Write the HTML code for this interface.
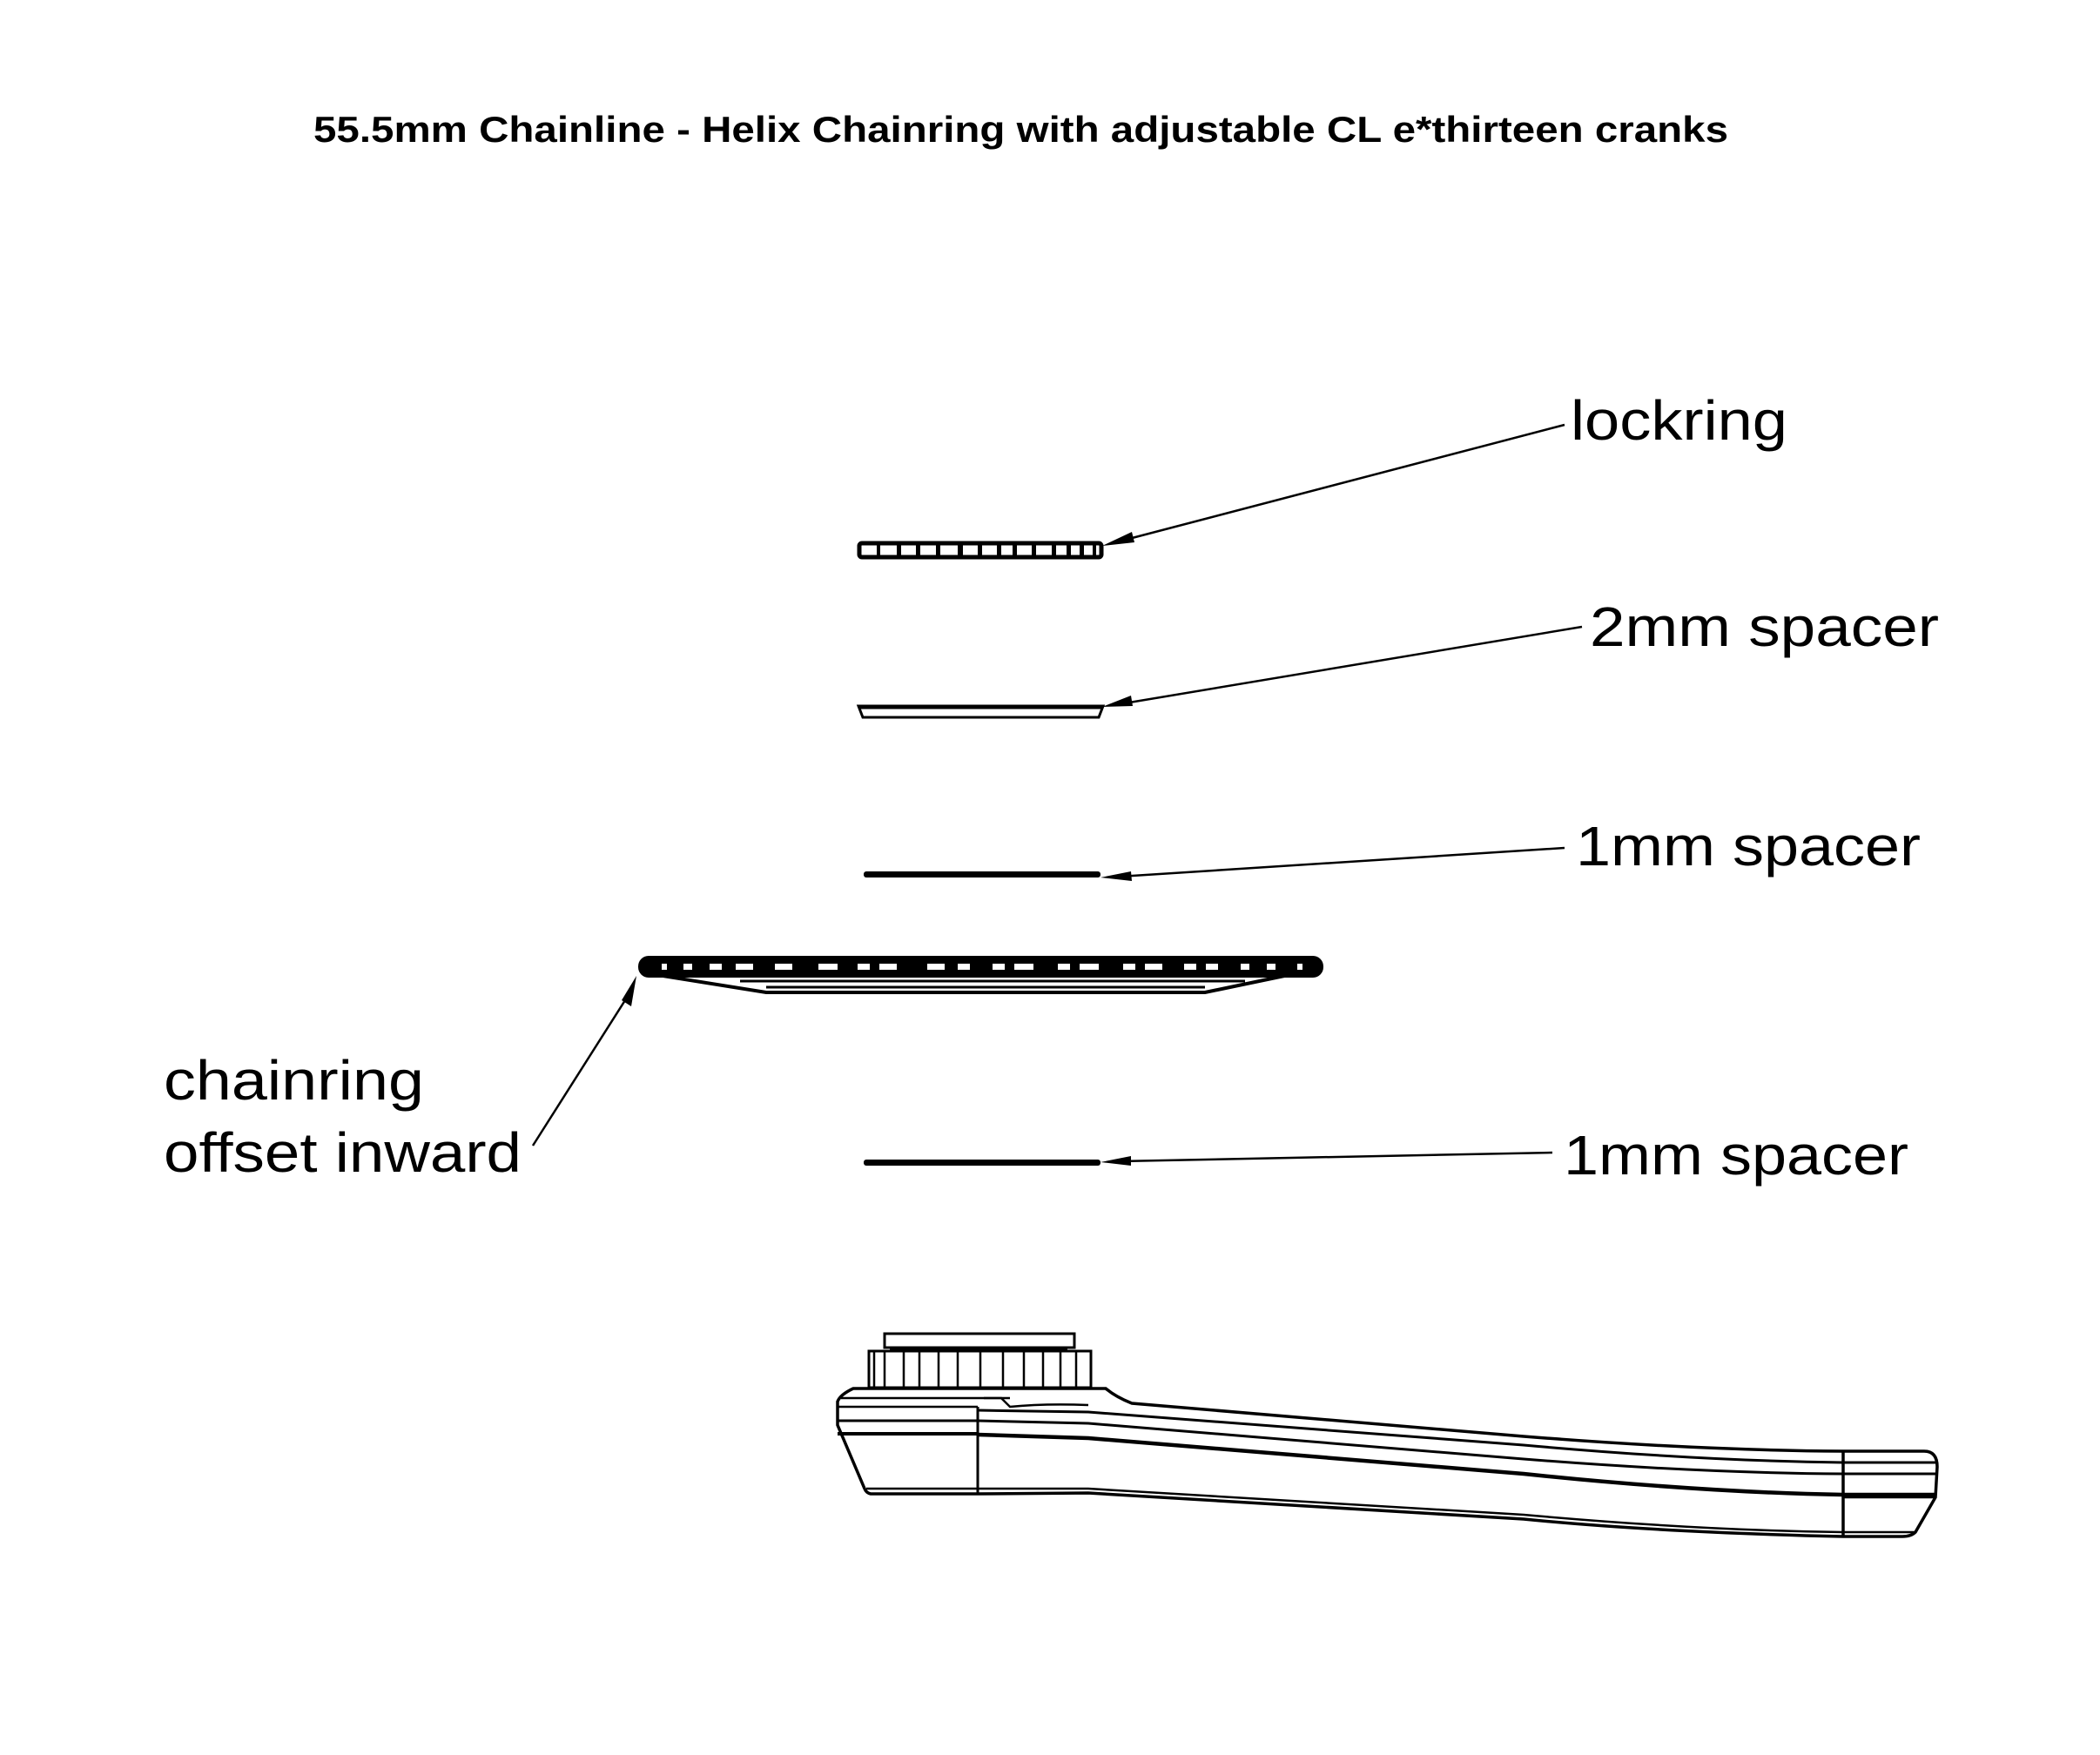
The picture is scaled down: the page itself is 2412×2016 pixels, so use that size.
<!DOCTYPE html>
<html><head><meta charset="utf-8"><style>
html,body{margin:0;padding:0;background:#fff;}
svg{display:block;}
text{font-family:"Liberation Sans",sans-serif;fill:#000;}
</style></head><body>
<svg width="2412" height="2016" viewBox="0 0 2412 2016" xmlns="http://www.w3.org/2000/svg">
<rect width="2412" height="2016" fill="#fff"/>
<text x="360" y="163" font-size="42" font-weight="bold" textLength="1625" lengthAdjust="spacingAndGlyphs">55.5mm Chainline - Helix Chainring with adjustable CL e*thirteen cranks</text>

<!-- labels -->
<g font-size="64">
<text x="1804" y="505" textLength="249" lengthAdjust="spacingAndGlyphs">lockring</text>
<text x="1826" y="742" textLength="401" lengthAdjust="spacingAndGlyphs">2mm spacer</text>
<text x="1810" y="994" textLength="396" lengthAdjust="spacingAndGlyphs">1mm spacer</text>
<text x="188" y="1263" textLength="299" lengthAdjust="spacingAndGlyphs">chainring</text>
<text x="188" y="1346" textLength="411" lengthAdjust="spacingAndGlyphs">offset inward</text>
<text x="1796" y="1349" textLength="396" lengthAdjust="spacingAndGlyphs">1mm spacer</text>
</g>

<!-- leader lines -->
<g stroke="#000" stroke-width="2.5" fill="none">
<line x1="1797" y1="488" x2="1285" y2="622"/>
<line x1="1817" y1="720" x2="1285" y2="809"/>
<line x1="1797" y1="974" x2="1285" y2="1007"/>
<line x1="612" y1="1316" x2="725" y2="1138"/>
<line x1="1783" y1="1324" x2="1285" y2="1334"/>
</g>
<g fill="#000">
<polygon points="1266,627 1300,611 1303,623"/>
<polygon points="1266,812 1299,799 1301,811"/>
<polygon points="1264,1008 1299,1001 1300,1012"/>
<polygon points="731,1121 725,1156 714,1149"/>
<polygon points="1264,1335 1299,1328 1299,1339"/>
</g>

<!-- lockring -->
<rect x="987" y="624" width="278" height="16" rx="3" fill="none" stroke="#000" stroke-width="5"/>
<g fill="#000">
<rect x="1007" y="624" width="4" height="16"/><rect x="1030" y="624" width="5" height="16"/>
<rect x="1052" y="624" width="5" height="16"/><rect x="1075" y="624" width="5" height="16"/>
<rect x="1100" y="624" width="6" height="16"/><rect x="1123" y="624" width="5" height="16"/>
<rect x="1145" y="624" width="5" height="16"/><rect x="1163" y="624" width="5" height="16"/>
<rect x="1185" y="624" width="5" height="16"/><rect x="1208" y="624" width="5" height="16"/>
<rect x="1225" y="624" width="5" height="16"/><rect x="1240" y="624" width="5" height="16"/>
<rect x="1255" y="624" width="4" height="16"/>
</g>

<!-- 2mm spacer -->
<path d="M986,811 L1267,811 L1262,824 L991,824 Z" fill="none" stroke="#000" stroke-width="3"/>
<line x1="986" y1="812" x2="1267" y2="812" stroke="#000" stroke-width="5"/>

<!-- 1mm spacers -->
<rect x="992" y="1001" width="272" height="7" rx="3" fill="#000"/>
<rect x="992" y="1332" width="272" height="7" rx="3" fill="#000"/>

<!-- chainring -->
<path d="M755,1120 L1480,1120 L1384,1140 L880,1140 Z" fill="none" stroke="#000" stroke-width="4"/>
<line x1="880" y1="1134" x2="1384" y2="1134" stroke="#000" stroke-width="3"/>
<line x1="850" y1="1127" x2="1430" y2="1127" stroke="#000" stroke-width="3"/>
<rect x="733" y="1098" width="787" height="25" rx="12" fill="#000"/>
<g fill="#fff">
<rect x="760" y="1107" width="6" height="7"/><rect x="785" y="1107" width="10" height="7"/>
<rect x="815" y="1107" width="14" height="7"/><rect x="845" y="1107" width="20" height="7"/>
<rect x="890" y="1107" width="20" height="7"/><rect x="940" y="1107" width="22" height="7"/>
<rect x="985" y="1107" width="14" height="7"/><rect x="1010" y="1107" width="20" height="7"/>
<rect x="1065" y="1107" width="20" height="7"/><rect x="1100" y="1107" width="14" height="7"/>
<rect x="1140" y="1107" width="14" height="7"/><rect x="1165" y="1107" width="22" height="7"/>
<rect x="1215" y="1107" width="14" height="7"/><rect x="1240" y="1107" width="22" height="7"/>
<rect x="1290" y="1107" width="14" height="7"/><rect x="1315" y="1107" width="20" height="7"/>
<rect x="1360" y="1107" width="14" height="7"/><rect x="1385" y="1107" width="14" height="7"/>
<rect x="1425" y="1107" width="10" height="7"/><rect x="1455" y="1107" width="10" height="7"/>
<rect x="1490" y="1107" width="6" height="7"/>
</g>

<!-- crank -->
<g fill="none" stroke="#000" stroke-width="2.5">
<rect x="1016" y="1532" width="218" height="16" stroke-width="3"/>
<line x1="1022" y1="1550" x2="1226" y2="1550"/>
<rect x="998" y="1552" width="255" height="42" stroke-width="3"/>
<path d="M1004,1552V1594M1016,1552V1594M1038,1552V1594M1056,1552V1594M1078,1552V1594M1100,1552V1594M1126,1552V1594M1152,1552V1594M1176,1552V1594M1198,1552V1594M1218,1552V1594M1236,1552V1594"/>
<path d="M980,1595 L1270,1595 Q1282,1605 1300,1612 L1750,1650 Q1950,1666 2117,1667 L2210,1667 Q2225,1667 2225,1685 L2223,1720 L2200,1760 Q2195,1765 2185,1765 L2117,1765 Q1900,1760 1750,1745 L1250,1715 L1123,1716 L1000,1716 Q995,1715 993,1710 L962,1637 L962,1610 Q965,1602 980,1595 Z" stroke-width="3.5"/>
<line x1="966" y1="1606" x2="1160" y2="1606"/>
<line x1="962" y1="1616" x2="1123" y2="1616"/>
<line x1="962" y1="1632" x2="1123" y2="1632" stroke-width="3"/>
<line x1="962" y1="1647" x2="1123" y2="1647" stroke-width="4"/>
<line x1="995" y1="1710" x2="1123" y2="1710"/>
<line x1="1123" y1="1616" x2="1123" y2="1716" stroke-width="3"/>
<path d="M1130,1606 L1150,1606 L1160,1616 Q1200,1612 1250,1614"/>
<path d="M1123,1620 L1250,1622 L1750,1660 Q1950,1678 2117,1680 L2225,1680" stroke-width="3"/>
<path d="M1123,1632 L1250,1635 L1750,1676 Q1950,1692 2117,1693 L2224,1693" stroke-width="3"/>
<path d="M1123,1648 L1250,1652 L1750,1693 Q1950,1714 2117,1717 L2222,1717" stroke-width="4.5"/>
<line x1="2117" y1="1720" x2="2222" y2="1720"/>
<path d="M1123,1710 L1250,1710 L1750,1740 Q1950,1758 2117,1760 L2200,1760"/>
<line x1="2117" y1="1667" x2="2117" y2="1765" stroke-width="3.5"/>
</g>
</svg>
</body></html>
